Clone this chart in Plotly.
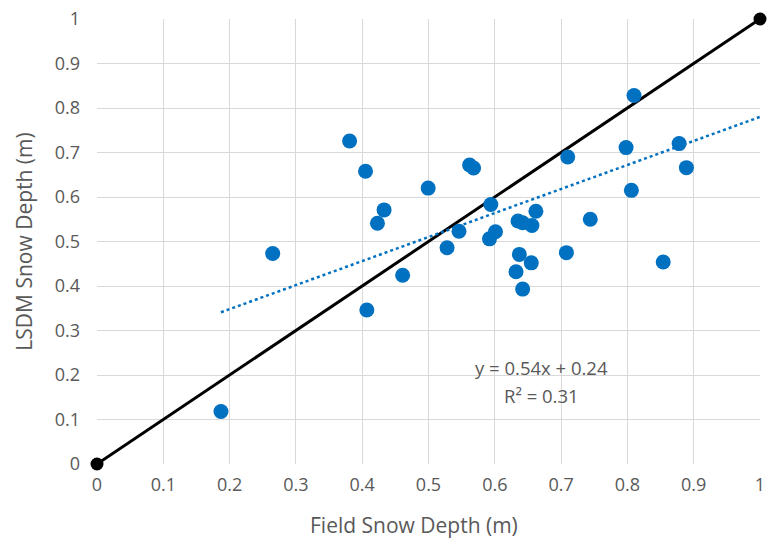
import plotly.graph_objects as go

# Field vs. modelled (LSDM) snow depth, metres
field_depth = [0.187, 0.265, 0.381, 0.405, 0.407, 0.423, 0.433, 0.461, 0.4995,
               0.528, 0.546, 0.562, 0.568, 0.592, 0.594, 0.601, 0.632, 0.635,
               0.637, 0.642, 0.642, 0.655, 0.656, 0.662, 0.708, 0.710, 0.744,
               0.798, 0.806, 0.810, 0.854, 0.878, 0.889]
lsdm_depth = [0.118, 0.473, 0.726, 0.658, 0.346, 0.541, 0.571, 0.424, 0.620,
              0.486, 0.523, 0.672, 0.665, 0.506, 0.583, 0.522, 0.432, 0.546,
              0.471, 0.542, 0.393, 0.452, 0.536, 0.568, 0.475, 0.690, 0.550,
              0.711, 0.615, 0.828, 0.454, 0.720, 0.666]

# Linear trend reported on the chart
slope = 0.54
intercept = 0.24
r_squared = 0.31

one_to_one = [0, 1]
tick_vals = [0, 0.1, 0.2, 0.3, 0.4, 0.5, 0.6, 0.7, 0.8, 0.9, 1]
tick_text = ["0", "0.1", "0.2", "0.3", "0.4", "0.5", "0.6", "0.7", "0.8", "0.9", "1"]

trend_x = [min(field_depth), 1.0]
trend_y = [slope * x + intercept for x in trend_x]

font_family = "Open Sans, sans-serif"
grey = "#595959"

fig = go.Figure()

fig.add_trace(go.Scatter(
    x=one_to_one, y=one_to_one, mode="lines+markers",
    line=dict(color="black", width=3),
    marker=dict(color="black", size=13),
    cliponaxis=False, showlegend=False, hoverinfo="skip"))

fig.add_trace(go.Scatter(
    x=trend_x, y=trend_y, mode="lines",
    line=dict(color="#0070C0", width=2.5, dash="dot"),
    showlegend=False, hoverinfo="skip"))

fig.add_trace(go.Scatter(
    x=field_depth, y=lsdm_depth, mode="markers",
    marker=dict(color="#0070C0", size=15),
    showlegend=False))

# Trend equation and goodness of fit
fig.add_annotation(
    x=0.671, y=0.217, xref="x", yref="y", showarrow=False,
    text=f"y = {slope:.2f}x + {intercept:.2f}",
    font=dict(family=font_family, size=18.5, color=grey))
fig.add_annotation(
    x=0.671, y=0.154, xref="x", yref="y", showarrow=False,
    text=f"R\u00b2 = {r_squared:.2f}",
    font=dict(family=font_family, size=18.5, color=grey))

# X-axis title
fig.add_annotation(
    x=0.4775, y=-0.136, xref="paper", yref="paper", showarrow=False,
    xanchor="center", yanchor="middle",
    text="Field Snow Depth (m)",
    font=dict(family=font_family, size=21, color=grey))

axis_common = dict(
    range=[0, 1], tickvals=tick_vals, ticktext=tick_text,
    showgrid=True, gridcolor="#d9d9d9", gridwidth=1.3,
    zeroline=False, showline=False, ticks="",
    tickfont=dict(family=font_family, size=18, color=grey),
    fixedrange=True)

fig.update_layout(
    width=771, height=550,
    margin=dict(l=97, r=6, t=17, b=86),
    paper_bgcolor="white", plot_bgcolor="white",
    xaxis=dict(**axis_common, ticklabelstandoff=8),
    yaxis=dict(**axis_common, ticklabelstandoff=16,
               title=dict(text="LSDM Snow Depth (m)", standoff=16,
                          font=dict(family=font_family, size=21, color=grey))),
)

fig.write_html("out.html")
